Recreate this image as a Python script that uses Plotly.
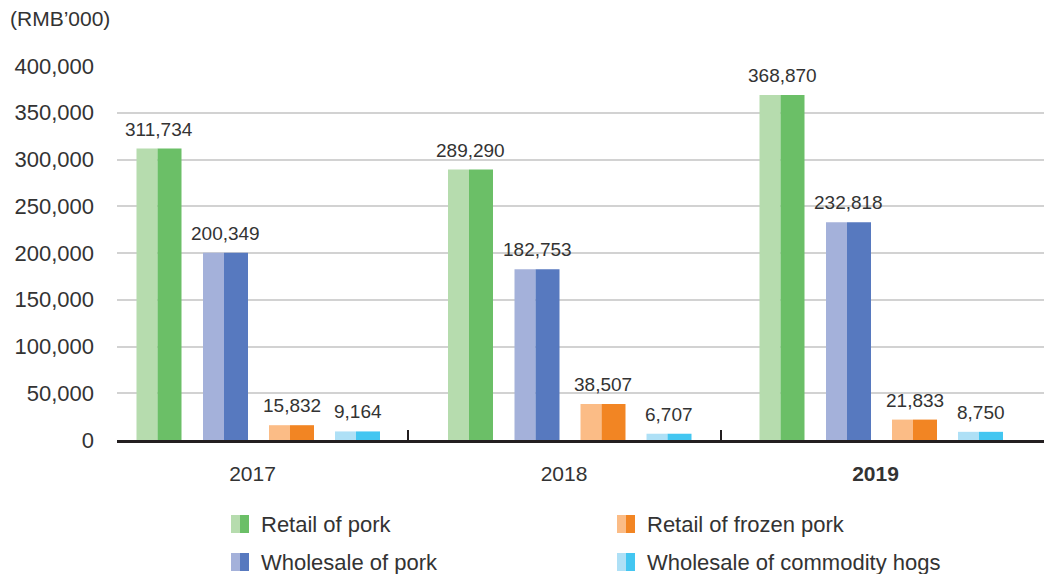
import plotly.graph_objects as go

years = ["2017", "2018", "2019"]
year_labels = ["2017", "2018", "<b>2019</b>"]
series_names = ["Retail of pork", "Wholesale of pork", "Retail of frozen pork", "Wholesale of commodity hogs"]
retail_pork = [311734, 289290, 368870]
wholesale_pork = [200349, 182753, 232818]
retail_frozen = [15832, 38507, 21833]
wholesale_hogs = [9164, 6707, 8750]
y_ticks = [0, 50000, 100000, 150000, 200000, 250000, 300000, 350000, 400000]

series_values = [retail_pork, wholesale_pork, retail_frozen, wholesale_hogs]
light_colors = ["#b6dcae", "#a4b1da", "#fbbc86", "#aee0f6"]
dark_colors = ["#6bbf67", "#5779bf", "#f28523", "#43c6f1"]

W, H = 1044, 574
ML, MR, MT, MB = 117, 0, 66, 134
PW = W - ML - MR
PH = H - MT - MB

# layout in category units
cat_px = 311.5
centers_px = [-99.5, -33.0, 33.0, 99.0]
offsets = [c / cat_px for c in centers_px]
bar_w = 45 / cat_px
light_w = 21 / cat_px
dark_w = bar_w - light_w
x0 = (ML - 258.5) / cat_px
x1 = x0 + PW / cat_px
label_shift = -6 / cat_px

fig = go.Figure()
idx = list(range(len(years)))
for j, vals in enumerate(series_values):
    fig.add_trace(go.Bar(
        x=idx, y=vals, offset=offsets[j] - bar_w / 2, width=light_w,
        marker=dict(color=light_colors[j], line=dict(width=0)),
        showlegend=False, hoverinfo="skip"))
    fig.add_trace(go.Bar(
        x=idx, y=vals, offset=offsets[j] - bar_w / 2 + light_w, width=dark_w,
        marker=dict(color=dark_colors[j], line=dict(width=0)),
        name=series_names[j], showlegend=False))
    for i, v in enumerate(vals):
        fig.add_annotation(x=i + offsets[j], y=v, xref="x", yref="y",
                           text=f"{v:,}", showarrow=False, yanchor="bottom",
                           yshift=7, font=dict(size=19, color="#333333"))

# group separator ticks via overlay axis
fig.update_layout(xaxis2=dict(overlaying="x", side="bottom", range=[x0, x1],
                              tickvals=[0.48, 1.485], ticks="inside", ticklen=10,
                              tickwidth=2, tickcolor="#231f20", showticklabels=False,
                              showgrid=False, zeroline=False, showline=False))
fig.add_trace(go.Scatter(x=[0.5], y=[0], xaxis="x2", yaxis="y", mode="markers",
                         marker=dict(opacity=0), showlegend=False, hoverinfo="skip"))

# manual two-tone legend
def px_x(px):
    return (px - ML) / PW

def px_y(py):
    return 1 - (py - MT) / PH

legend_pos = [(231, 524), (231, 562), (617, 524), (617, 562)]
for j, (lx, ly) in enumerate(legend_pos):
    fig.add_shape(type="rect", xref="paper", yref="paper",
                  x0=px_x(lx), x1=px_x(lx + 9), y0=px_y(ly + 9), y1=px_y(ly - 9),
                  fillcolor=light_colors[j], line=dict(width=0))
    fig.add_shape(type="rect", xref="paper", yref="paper",
                  x0=px_x(lx + 9), x1=px_x(lx + 18), y0=px_y(ly + 9), y1=px_y(ly - 9),
                  fillcolor=dark_colors[j], line=dict(width=0))
    fig.add_annotation(xref="paper", yref="paper", x=px_x(lx + 28), y=px_y(ly),
                       text=series_names[j], showarrow=False, xanchor="left",
                       yanchor="middle", font=dict(size=22, color="#333333"))

fig.update_layout(
    width=W, height=H,
    margin=dict(l=ML, r=MR, t=MT, b=MB, pad=0),
    paper_bgcolor="white", plot_bgcolor="white",
    font=dict(family="Liberation Sans, Arial, sans-serif", color="#333333"),
    barmode="overlay",
    title=dict(text="(RMB’000)", x=10 / W, xanchor="left", xref="container",
               y=1 - 19 / H, yanchor="middle", yref="container",
               font=dict(size=21, color="#333333")),
    xaxis=dict(range=[x0, x1], tickvals=[i + label_shift for i in idx],
               ticktext=year_labels, ticks="",
               showgrid=False, zeroline=False, showline=True, linecolor="#231f20",
               linewidth=2.5, tickfont=dict(size=21, color="#333333"),
               ticklabelstandoff=13),
    yaxis=dict(range=[0, 400000], tickvals=y_ticks, tickformat=",d",
               showgrid=True, gridcolor="#d2d2d2", gridwidth=1.5, zeroline=False,
               showline=False, ticks="", tickfont=dict(size=22, color="#333333"),
               ticklabelstandoff=22),
    showlegend=False,
)

fig.write_html("out.html")
